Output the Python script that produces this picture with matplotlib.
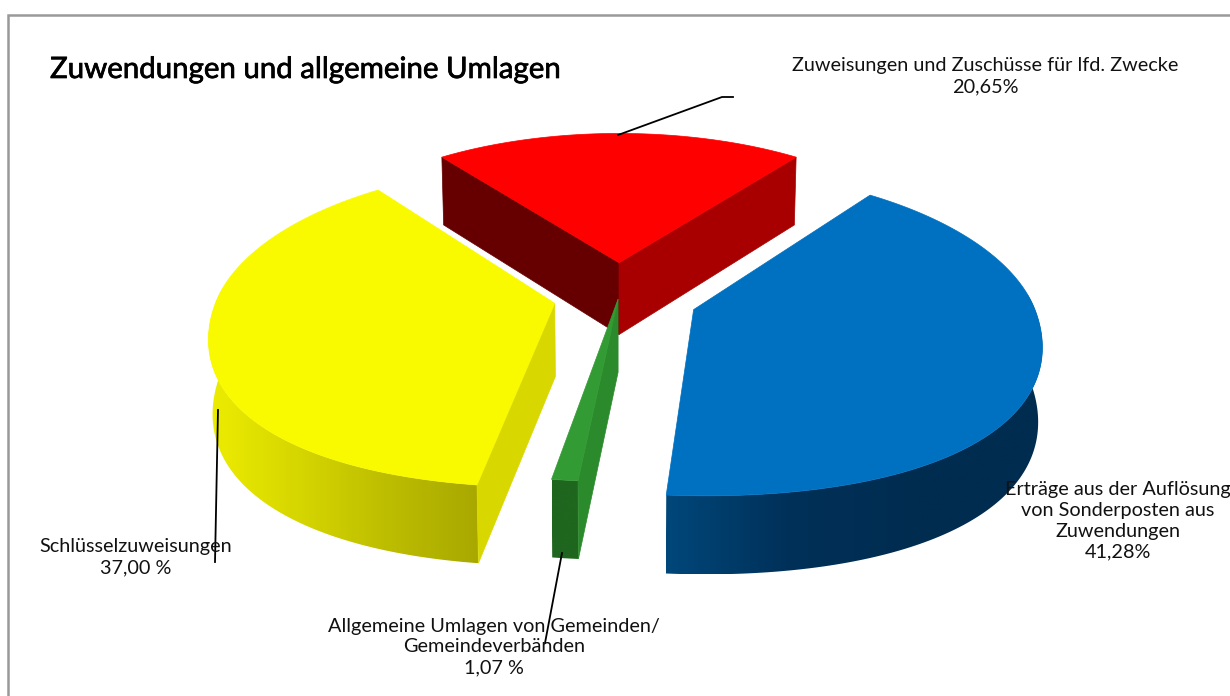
import numpy as np
import matplotlib
matplotlib.use("Agg")
import matplotlib.pyplot as plt
from matplotlib.colors import LinearSegmentedColormap
from matplotlib.patches import Polygon
import matplotlib.patheffects as pe

title = "Zuwendungen und allgemeine Umlagen"
categories = ["Zuweisungen und Zuschüsse für lfd. Zwecke",
              "Erträge aus der Auflösung\nvon Sonderposten aus\nZuwendungen",
              "Allgemeine Umlagen von Gemeinden/\nGemeindeverbänden",
              "Schlüsselzuweisungen"]
shares = [20.65, 41.28, 1.07, 37.00]
share_labels = ["20,65%", "41,28%", "1,07 %", "37,00 %"]

explode = [0.22, 0.235, 0.02, 0.195]
top_colors = ["#FF0000", "#0070C0", "#339B33", "#F9FA00"]
# wall gradients run left to right on screen
wall_colors = [["#A80000", "#A80000"],
               ["#00477A", "#003058", "#002C50", "#002C50"],
               ["#1F661F", "#1F661F"],
               ["#EDED00", "#D6D600", "#BDBD00", "#A8A800"]]
left_faces = ["#660000", "#004A80", "#2B8A2B", "#D8D800"]
right_faces = ["#A80000", "#004A80", "#2B8A2B", "#D8D800"]

cx, cy = 619, 296
rx, ry = 337, 156
persp_x, persp_y = 0.147, 0.14
depth = 73
bulge = 0.03


def project(X, Y, z=0.0):
    sx = 1 / (1 + persp_x * Y)
    sy = 1 / (1 + persp_y * Y)
    return np.column_stack([cx + rx * X * sx * (1 - 0.01 * z),
                            cy - ry * Y * sy + z * depth * (1 - 0.07 * Y)])


fig = plt.figure(figsize=(12.3, 6.96), dpi=100)
ax = fig.add_axes([0, 0, 1, 1])
plt.rcParams["font.family"] = ["Lato", "DejaVu Sans"]

# frame, only top and left are in the crop
ax.plot([8, 8, 1230], [696, 15, 15], color="#999999", lw=1.8, solid_joinstyle="miter")

sweeps = np.array(shares) / sum(shares) * 2 * np.pi
starts = -sweeps[0] / 2 + np.concatenate([[0], np.cumsum(sweeps[:-1])])

# back to front: red, yellow, blue, green
for i in [0, 3, 1, 2]:
    a = np.linspace(starts[i], starts[i] + sweeps[i], 240)
    mid = starts[i] + sweeps[i] / 2
    ox, oy = explode[i] * np.sin(mid), explode[i] * np.cos(mid)
    # the front half of the rim is a bit fuller than an ellipse
    fuller = 1 + bulge * np.sin(2 * a) ** 2 * (np.cos(a) < 0)
    X, Y = ox + np.sin(a) * fuller, oy + np.cos(a) * fuller
    top = project(X, Y)
    bottom = project(X, Y, 1)
    z = 2 + i

    front = np.cos(a) < 0.1
    if front.any():
        wall = np.vstack([top[front], bottom[front][::-1]])
        cmap = LinearSegmentedColormap.from_list("wall", wall_colors[i])
        x0, x1 = wall[:, 0].min(), wall[:, 0].max()
        y0, y1 = wall[:, 1].min(), wall[:, 1].max()
        im = ax.imshow(np.linspace(0, 1, 256).reshape(1, -1), cmap=cmap, aspect="auto",
                       extent=[x0, x1, y1, y0], zorder=z, interpolation="bilinear")
        clip = Polygon(wall, transform=ax.transData, fc="none", ec="none")
        ax.add_patch(clip)
        im.set_clip_path(clip)

    apex_t = project(np.array([ox]), np.array([oy]))[0]
    apex_b = project(np.array([ox]), np.array([oy]), 1)[0]
    # cut faces that look at the viewer
    if i == 0:
        ax.add_patch(Polygon([top[0], apex_t, apex_b, bottom[0]], fc=left_faces[i], ec=left_faces[i], lw=0.5, zorder=z))
        ax.add_patch(Polygon([top[-1], apex_t, apex_b, bottom[-1]], fc=right_faces[i], ec=right_faces[i], lw=0.5, zorder=z))
    if i in (2, 3):
        ax.add_patch(Polygon([top[0], apex_t, apex_b, bottom[0]], fc=right_faces[i], ec=right_faces[i], lw=0.5, zorder=z))
    ax.add_patch(Polygon(np.vstack([apex_t, top]), fc=top_colors[i], ec=top_colors[i], lw=0.5, zorder=z))

# leader lines
ax.plot([618, 722, 733], [135, 97, 97], color="black", lw=1.3, zorder=10)
ax.plot([218, 215], [410, 562], color="black", lw=1.3, zorder=10)
ax.plot([562, 545], [553, 643], color="black", lw=1.3, zorder=10)

ax.set_xlim(0, 1230)
ax.set_ylim(696, 0)
ax.axis("off")

label_size = 14.3
spacing = 1.27
ax.text(50, 70, title, fontsize=21.2, color="black", va="center", ha="left", zorder=11,
        path_effects=[pe.withStroke(linewidth=0.5, foreground="black")])
ax.text(985, 76, categories[0] + "\n" + share_labels[0], fontsize=label_size, ha="center", va="center", linespacing=spacing, color="#111111", zorder=11)
ax.text(1118, 521, categories[1] + "\n" + share_labels[1], fontsize=label_size, ha="center", va="center", linespacing=spacing, color="#111111", zorder=11)
ax.text(494, 647, categories[2] + "\n" + share_labels[2], fontsize=label_size, ha="center", va="center", linespacing=spacing, color="#111111", zorder=11)
ax.text(136, 557, categories[3] + "\n" + share_labels[3], fontsize=label_size, ha="center", va="center", linespacing=spacing, color="#111111", zorder=11)

fig.savefig("out.png", dpi=100, facecolor="white")
